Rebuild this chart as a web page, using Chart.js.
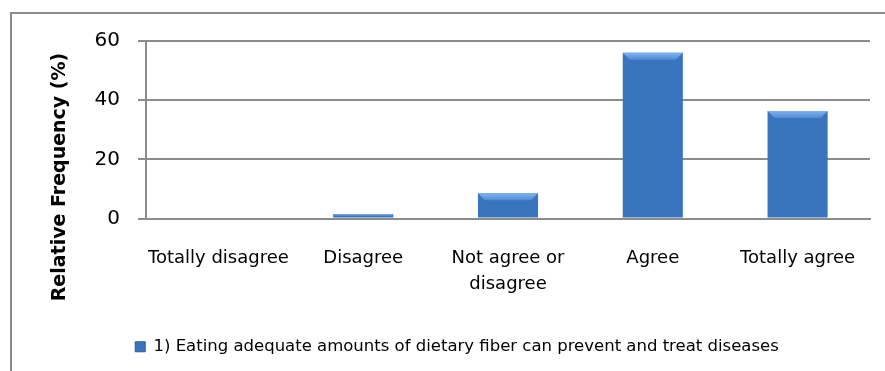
<!DOCTYPE html>
<html>
<head>
<meta charset="utf-8">
<script src="https://cdn.jsdelivr.net/npm/chart.js@4.4.1/dist/chart.umd.min.js"></script>
<style>
  html, body { margin: 0; padding: 0; background: #fff; }
  body { width: 885px; height: 371px; position: relative; overflow: hidden; }
  #frame { position: absolute; left: 10px; top: 12px; width: 900px; height: 400px;
           border: 2px solid #8c8c8c; box-sizing: border-box; }
  #wrap { position: absolute; left: 0; top: 0; width: 885px; height: 371px; }
</style>
</head>
<body>
<div id="frame"></div>
<div id="wrap"><canvas id="c" width="885" height="371"></canvas></div>
<script>
// Survey responses: share of respondents per answer
const categories = ["Totally disagree", "Disagree", ["Not agree or", "disagree"], "Agree", "Totally agree"];
const relativeFrequency = [0, 1.5, 8.5, 56, 36.3];
const seriesLabel = "1) Eating adequate amounts of dietary fiber can prevent and treat diseases";
const yTicks = [0, 20, 40, 60];
const yTitle = "Relative Frequency (%)";

const FONT = "'DejaVu Sans', sans-serif";

// Horizontal shading across each bar, darker at the edges
function barFill(ctx) {
  const chart = ctx.chart;
  const el = ctx.element;
  if (!el || !chart.chartArea || !Number.isFinite(el.x) || !Number.isFinite(el.width) || el.width <= 0) {
    return '#3a74bd';
  }
  const half = el.width / 2;
  const g = chart.ctx.createLinearGradient(el.x - half, 0, el.x + half, 0);
  g.addColorStop(0, '#2b5b99');
  g.addColorStop(0.1, '#366fb9');
  g.addColorStop(0.5, '#3a76c2');
  g.addColorStop(0.9, '#366fb9');
  g.addColorStop(1, '#28548c');
  return g;
}

// Light bevel along the top edge of each bar
const bevel = {
  id: 'bevel',
  afterDatasetsDraw(chart) {
    const ctx = chart.ctx;
    chart.getDatasetMeta(0).data.forEach(bar => {
      const h = bar.base - bar.y;
      if (!(h > 0.5)) return;
      const half = bar.width / 2;
      const d = Math.min(7, h * 0.5);
      const l = bar.x - half, r = bar.x + half, t = bar.y;
      ctx.save();
      const g = ctx.createLinearGradient(0, t, 0, t + d);
      g.addColorStop(0, '#7fb2ee');
      g.addColorStop(1, '#4f8ad4');
      ctx.fillStyle = g;
      ctx.beginPath();
      ctx.moveTo(l, t);
      ctx.lineTo(r, t);
      ctx.lineTo(r - d, t + d);
      ctx.lineTo(l + d, t + d);
      ctx.closePath();
      ctx.fill();
      ctx.restore();
    });
  }
};

// Vertical axis title, set a little lower than the plot's middle
const axisTitle = {
  id: 'axisTitle',
  afterDraw(chart) {
    const ctx = chart.ctx;
    ctx.save();
    ctx.translate(60, 177);
    ctx.rotate(-Math.PI / 2);
    ctx.font = "bold 19px " + FONT;
    ctx.fillStyle = '#000';
    ctx.textAlign = 'center';
    ctx.textBaseline = 'middle';
    ctx.fillText(yTitle, 0, 0);
    ctx.restore();
  }
};

new Chart(document.getElementById('c'), {
  type: 'bar',
  data: {
    labels: categories,
    datasets: [{
      label: seriesLabel,
      data: relativeFrequency,
      backgroundColor: barFill,
      borderWidth: 0,
      categoryPercentage: 1,
      barPercentage: 0.415
    }]
  },
  options: {
    responsive: false,
    animation: false,
    devicePixelRatio: 1,
    layout: { padding: { left: 44, right: 15, top: 41, bottom: 6 } },
    plugins: {
      tooltip: { enabled: false },
      legend: {
        position: 'bottom',
        align: 'center',
        labels: {
          color: '#000',
          font: { family: FONT, size: 16.5 },
          boxWidth: 10,
          boxHeight: 10,
          padding: 10,
          generateLabels: () => [{
            text: seriesLabel,
            fillStyle: '#3a74bd',
            strokeStyle: '#2c5a94',
            lineWidth: 1,
            datasetIndex: 0
          }]
        }
      }
    },
    scales: {
      x: {
        afterFit: (scale) => { scale.height = 110; },
        grid: { display: false, drawTicks: false },
        border: { display: true, color: '#8c8c8c', width: 2 },
        ticks: {
          color: '#000',
          font: { family: FONT, size: 18, lineHeight: 1.45 },
          maxRotation: 0,
          autoSkip: false,
          padding: 27
        }
      },
      y: {
        min: 0,
        max: 60,
        afterFit: (scale) => { scale.width = 102; },
        afterBuildTicks: (scale) => { scale.ticks = yTicks.map(v => ({ value: v })); },
        grid: { color: '#8c8c8c', lineWidth: 2, tickLength: 8, tickColor: '#8c8c8c' },
        border: { display: true, color: '#8c8c8c', width: 2 },
        ticks: {
          color: '#000',
          font: { family: FONT, size: 20 },
          padding: 18
        },
        title: { display: false }
      }
    }
  },
  plugins: [bevel, axisTitle]
});
</script>
</body>
</html>
